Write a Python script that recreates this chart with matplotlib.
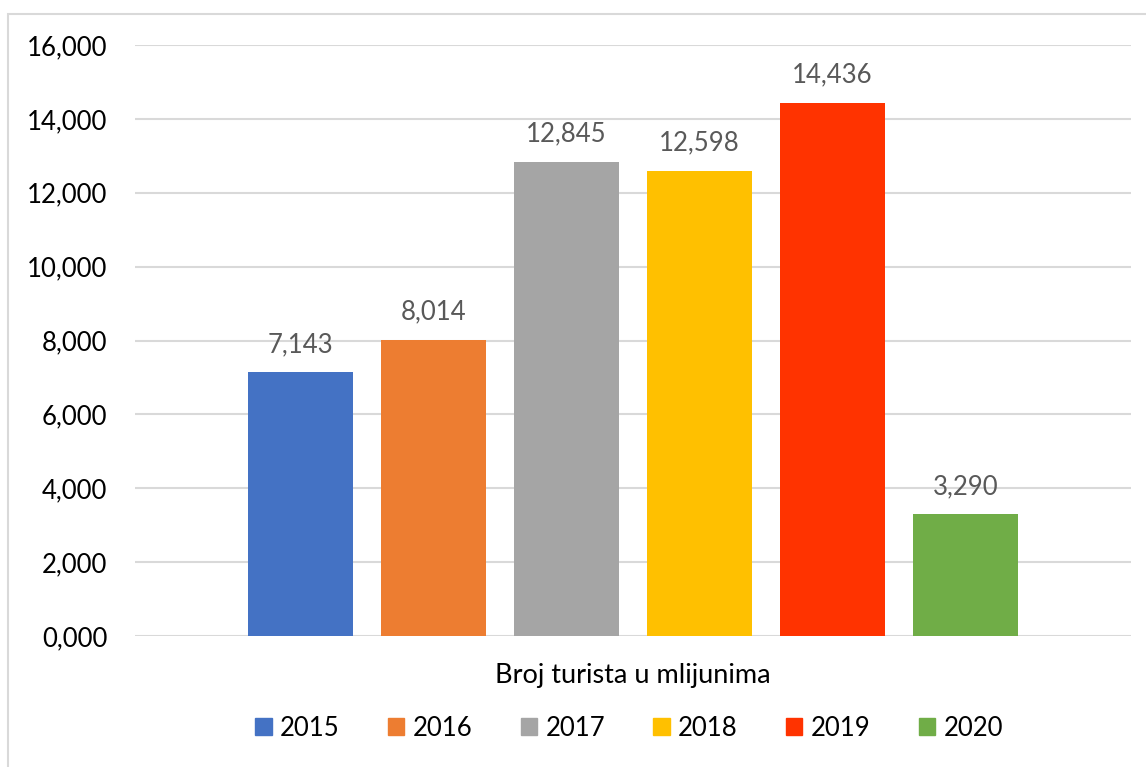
import matplotlib
matplotlib.use("Agg")
import matplotlib.pyplot as plt
from matplotlib.patches import Rectangle, Patch
from matplotlib.ticker import FuncFormatter

years = ["2015", "2016", "2017", "2018", "2019", "2020"]
values = [7.143, 8.014, 12.845, 12.598, 14.436, 3.290]
colors = ["#4472C4", "#ED7D31", "#A5A5A5", "#FFC000", "#FF3300", "#70AD47"]
category = "Broj turista u mlijunima"
yticks = [0, 2, 4, 6, 8, 10, 12, 14, 16]

plt.rcParams['font.family'] = ['Lato', 'DejaVu Sans']

W, H = 1146, 767
fig = plt.figure(figsize=(W/100, H/100), dpi=100)
ax = fig.add_axes([135/W, (H-636)/H, (1131-135)/W, (636-45)/H])

def fmt(v):
    return f"{v:.3f}".replace(".", ",")

n = len(values)
step = 133/996
width = 105/996
for i, (y, v, c) in enumerate(zip(years, values, colors)):
    x = (i - (n-1)/2) * step
    bars = ax.bar(x, v, width=width, color=c, label=y, zorder=3)
    ax.bar_label(bars, labels=[fmt(v)], padding=11, fontsize=18.5, color="#595959")

ax.set_xlim(-0.5, 0.5)
ax.set_ylim(0, 16)
ax.set_yticks(yticks)
ax.yaxis.set_major_formatter(FuncFormatter(lambda v, p: fmt(v)))
ax.tick_params(axis='y', length=0, pad=20, labelsize=18.5, labelcolor="#000000")
ax.set_xticks([])
for s in ax.spines.values():
    s.set_visible(False)
ax.grid(axis='y', color="#D9D9D9", linewidth=1.5, zorder=0)
ax.set_axisbelow(True)

fig.text(633/W, (H-675)/H, category, ha='center', va='center', fontsize=19.5, color="#000000")

handles = [Patch(color=c, label=y) for y, c in zip(years, colors)]
fig.legend(handles=handles, loc='center', bbox_to_anchor=(629/W, (H-728)/H), ncol=6,
           frameon=False, fontsize=18.5, handlelength=0.64, handleheight=0.64,
           handletextpad=0.32, columnspacing=1.88, borderaxespad=0)

fig.patches.append(Rectangle((8/W, -0.1), 1.2, (H-14)/H + 0.1, transform=fig.transFigure,
                             fill=False, edgecolor="#D9D9D9", linewidth=1.5))

fig.savefig("out.png", dpi=100)
